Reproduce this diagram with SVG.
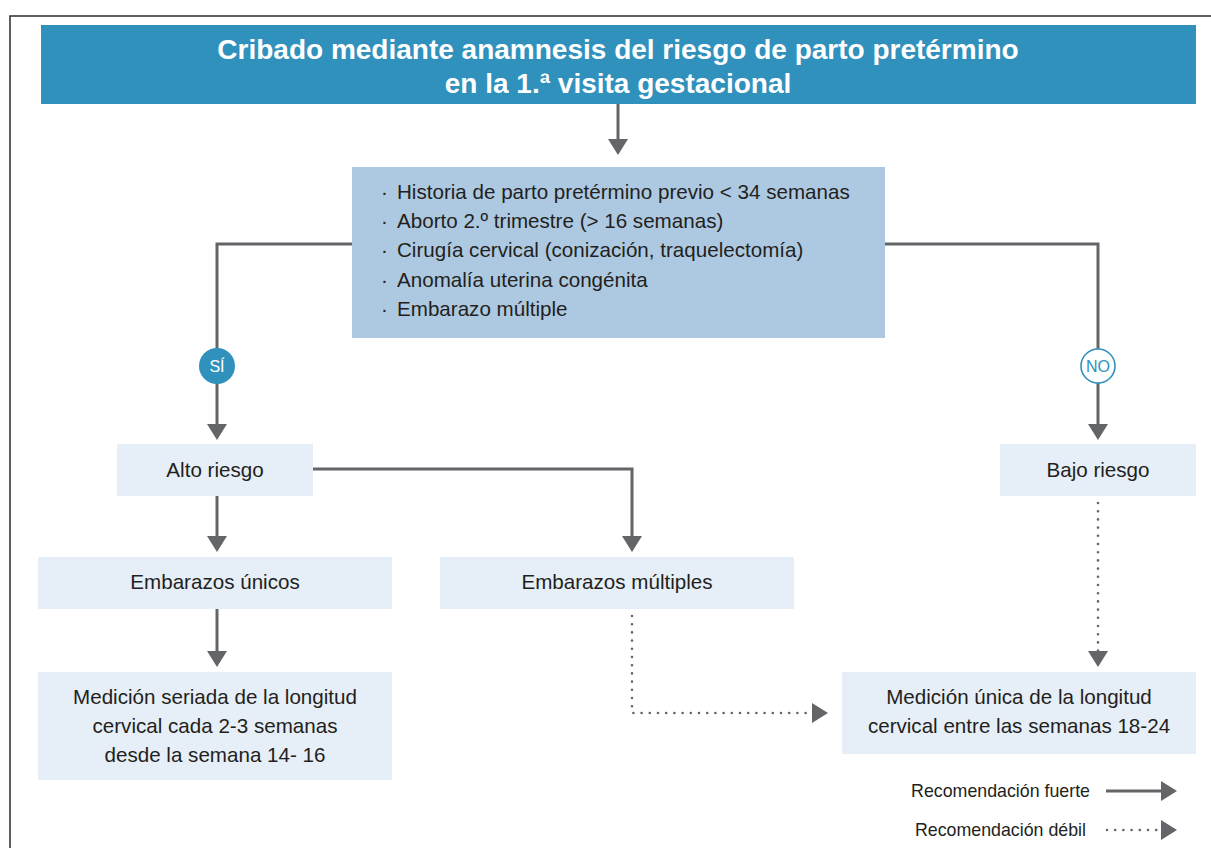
<svg xmlns="http://www.w3.org/2000/svg" width="1211" height="848" viewBox="0 0 1211 848">
<style>
text{font-family:"Liberation Sans",Arial,sans-serif;fill:#231f20}
.t{font-size:20.6px}
.title{font-size:28px;font-weight:bold;fill:#ffffff}
.lg{font-size:17.8px}
.light{fill:#e6eef7}
.s{fill:none;stroke:#636569;stroke-width:3}
.d{fill:none;stroke:#636569;stroke-width:2.6;stroke-dasharray:0 8.2;stroke-linecap:round}
</style>
<defs>
<marker id="ah" markerUnits="userSpaceOnUse" markerWidth="18" markerHeight="22" refX="13" refY="10" orient="auto" viewBox="0 0 18 22">
<path d="M0,0 L16,10 L0,20 z" fill="#636569"/>
</marker>
</defs>
<rect x="10" y="16" width="1230" height="860" fill="none" stroke="#2b2b2b" stroke-width="1.5"/>

<g id="connectors">
<path class="s" d="M618,104 V152" marker-end="url(#ah)"/>
<path class="s" d="M352,244 H217 V437" marker-end="url(#ah)"/>
<path class="s" d="M885,244 H1098 V437" marker-end="url(#ah)"/>
<path class="s" d="M313,469 H632 V549" marker-end="url(#ah)"/>
<path class="s" d="M217,496 V549" marker-end="url(#ah)"/>
<path class="s" d="M217,609 V664" marker-end="url(#ah)"/>
<path class="d" d="M632,616 V713 H825" marker-end="url(#ah)"/>
<path class="d" d="M1098,503 V664" marker-end="url(#ah)"/>
</g>

<g id="title">
<rect x="41" y="25" width="1155" height="79" fill="#3191bd"/>
<text class="title" x="618" y="59" text-anchor="middle">Cribado mediante anamnesis del riesgo de parto pretérmino</text>
<text class="title" x="618" y="93" text-anchor="middle">en la 1.ª visita gestacional</text>
</g>

<g id="criteria">
<rect x="352" y="167" width="533" height="171" fill="#adc9e1"/>
<text class="t" x="381" y="199">·</text><text class="t" x="397" y="199">Historia de parto pretérmino previo &lt; 34 semanas</text>
<text class="t" x="381" y="228">·</text><text class="t" x="397" y="228">Aborto 2.º trimestre (&gt; 16 semanas)</text>
<text class="t" x="381" y="257">·</text><text class="t" x="397" y="257">Cirugía cervical (conización, traquelectomía)</text>
<text class="t" x="381" y="287">·</text><text class="t" x="397" y="287">Anomalía uterina congénita</text>
<text class="t" x="381" y="316">·</text><text class="t" x="397" y="316">Embarazo múltiple</text>
</g>

<g id="si">
<circle cx="217" cy="366" r="18" fill="#3191bd"/>
<text x="217" y="372" text-anchor="middle" style="font-size:16px;fill:#ffffff">SÍ</text>
</g>
<g id="no">
<circle cx="1098" cy="366" r="17" fill="#ffffff" stroke="#3191bd" stroke-width="1.6"/>
<text x="1098" y="372" text-anchor="middle" style="font-size:16px;fill:#3191bd">NO</text>
</g>

<g id="alto">
<rect class="light" x="117" y="444" width="196" height="52"/>
<text class="t" x="215" y="477" text-anchor="middle">Alto riesgo</text>
</g>
<g id="bajo">
<rect class="light" x="1000" y="444" width="196" height="52"/>
<text class="t" x="1098" y="477" text-anchor="middle">Bajo riesgo</text>
</g>
<g id="unicos">
<rect class="light" x="38" y="557" width="354" height="52"/>
<text class="t" x="215" y="589" text-anchor="middle">Embarazos únicos</text>
</g>
<g id="multiples">
<rect class="light" x="440" y="557" width="354" height="52"/>
<text class="t" x="617" y="589" text-anchor="middle">Embarazos múltiples</text>
</g>
<g id="seriada">
<rect class="light" x="38" y="672" width="354" height="108"/>
<text class="t" x="215" y="704" text-anchor="middle">Medición seriada de la longitud</text>
<text class="t" x="215" y="733" text-anchor="middle">cervical cada 2-3 semanas</text>
<text class="t" x="215" y="762" text-anchor="middle">desde la semana 14- 16</text>
</g>
<g id="unica">
<rect class="light" x="842" y="672" width="354" height="82"/>
<text class="t" x="1019" y="704" text-anchor="middle">Medición única de la longitud</text>
<text class="t" x="1019" y="733" text-anchor="middle">cervical entre las semanas 18-24</text>
</g>

<g id="legend">
<text class="lg" x="1090" y="797" text-anchor="end">Recomendación fuerte</text>
<path class="s" d="M1106,791 H1174" marker-end="url(#ah)"/>
<text class="lg" x="1086" y="836" text-anchor="end">Recomendación débil</text>
<path class="d" d="M1107,830 H1174" marker-end="url(#ah)"/>
</g>
</svg>
